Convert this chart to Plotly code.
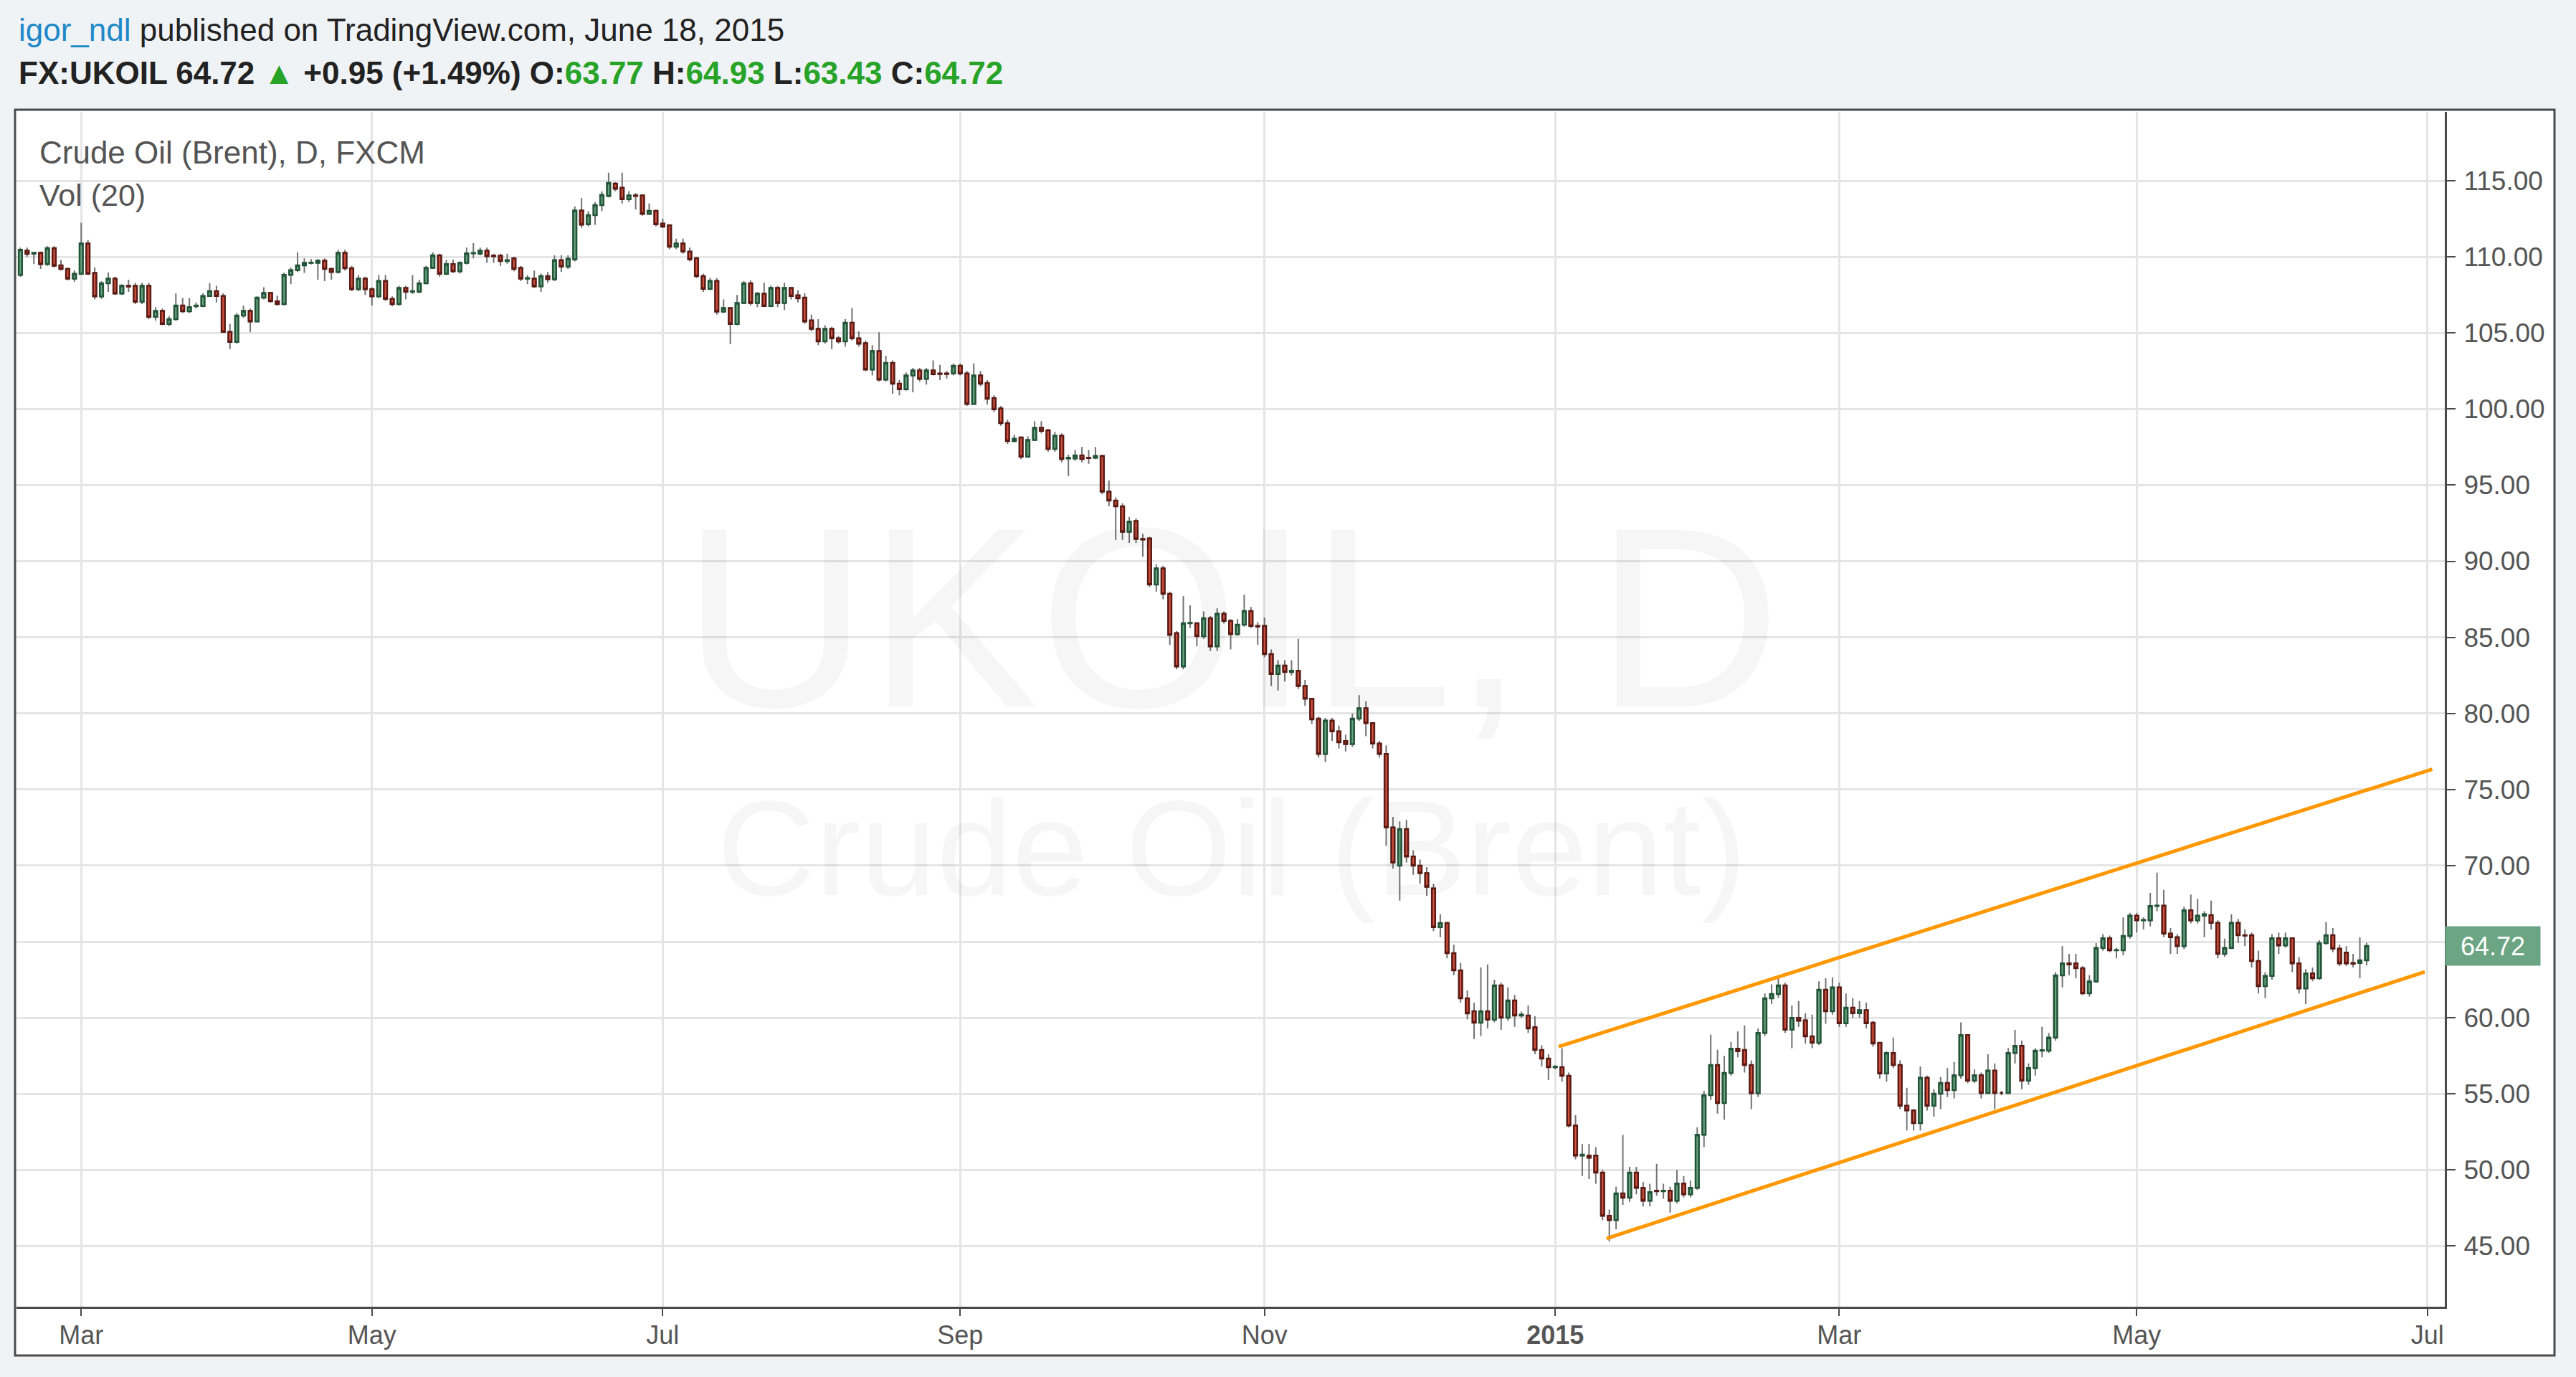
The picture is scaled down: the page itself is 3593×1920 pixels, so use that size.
import numpy as np
import pandas as pd
import plotly.graph_objects as go

# ---------------- data ----------------
first_day = "2014-02-18"

opens = [
    108.81, 110.41, 110.20, 110.26, 109.52, 110.57, 109.44, 109.20, 108.57, 108.89,
    110.88, 108.94, 107.40, 108.26, 108.57, 107.59, 108.10, 108.10, 107.05, 108.10,
    106.06, 106.45, 105.59, 105.90, 106.80, 106.42, 106.75, 106.77, 107.43, 107.74,
    107.43, 105.07, 104.41, 106.14, 106.45, 105.75, 107.32, 107.63, 107.08, 106.89,
    108.81, 109.12, 109.44, 109.60, 109.60, 109.75, 109.20, 109.00, 110.26, 109.25,
    107.87, 108.57, 107.87, 107.40, 108.42, 107.24, 106.89, 107.95, 107.71, 107.71,
    108.26, 109.28, 110.10, 108.89, 109.52, 109.05, 109.60, 110.23, 110.20, 110.40,
    110.07, 110.07, 109.72, 109.90, 109.28, 108.57, 108.57, 108.06, 108.73, 108.53,
    109.78, 109.36, 109.83, 113.05, 112.14, 112.74, 113.40, 114.00, 114.81, 114.54,
    113.79, 114.03, 114.03, 112.82, 113.02, 112.19, 112.08, 110.66, 110.88, 110.35,
    109.91, 108.73, 107.90, 108.42, 106.40, 106.64, 105.59, 106.96, 108.26, 106.96,
    107.58, 106.77, 107.95, 106.96, 107.95, 107.47, 107.32, 105.82, 105.27, 104.44,
    105.27, 104.65, 104.44, 105.67, 104.65, 104.33, 102.60, 103.81, 101.93, 103.03,
    101.66, 101.30, 102.21, 102.53, 101.98, 102.53, 102.34, 102.34, 102.34, 102.84,
    102.34, 100.33, 102.21, 101.71, 100.72, 100.04, 99.07, 97.89, 98.13, 96.87,
    97.97, 98.76, 98.60, 97.37, 98.25, 96.75, 96.75, 96.95, 96.80, 96.80,
    96.92, 94.57, 93.98, 93.61, 91.93, 92.64, 91.46, 91.50, 88.47, 89.53,
    87.85, 85.28, 83.09, 85.92, 85.92, 85.08, 86.25, 84.40, 86.55, 86.08,
    85.21, 85.83, 86.72, 85.75, 85.75, 83.90, 82.59, 83.14, 82.72, 82.80,
    81.80, 80.96, 79.66, 77.34, 79.53, 78.82, 78.18, 77.98, 79.66, 80.34,
    79.36, 78.02, 77.34, 72.50, 70.00, 72.40, 70.60, 70.00, 69.50, 68.50,
    65.95, 66.23, 64.25, 63.12, 61.28, 60.43, 59.67, 60.43, 59.87, 62.13,
    60.00, 61.14, 60.15, 60.15, 59.38, 57.88, 57.32, 56.75, 56.75, 56.19,
    52.93, 50.95, 50.95, 50.95, 49.82, 46.99, 46.70, 48.46, 48.18, 49.82,
    48.83, 47.98, 48.63, 48.60, 48.63, 47.98, 49.11, 48.40, 48.83, 52.31,
    54.91, 56.89, 54.40, 56.38, 57.97, 57.88, 56.89, 55.05, 59.00, 61.28,
    61.56, 62.13, 59.22, 59.99, 59.83, 58.78, 58.35, 61.84, 60.43, 62.00,
    59.64, 60.66, 60.30, 60.50, 59.67, 58.35, 56.34, 57.68, 56.89, 54.22,
    53.91, 53.08, 56.06, 54.22, 55.01, 55.72, 55.24, 56.22, 58.86, 55.87,
    56.22, 55.06, 56.53, 55.06, 55.06, 57.68, 58.15, 55.87, 56.69, 57.84,
    57.84, 58.70, 62.78, 63.57, 63.57, 63.26, 61.61, 62.39, 64.59, 65.22,
    64.43, 64.43, 65.38, 66.71, 66.40, 66.40, 67.34, 67.37, 65.53, 65.30,
    64.70, 67.06, 66.40, 66.71, 66.74, 66.24, 64.20, 64.59, 66.24, 65.42,
    65.42, 63.73, 62.08, 62.75, 65.22, 64.75, 65.22, 63.57, 61.92, 62.91,
    62.60, 64.91, 65.42, 64.54, 64.28, 63.60, 63.60, 63.77,
]
highs = [
    110.60, 110.60, 110.30, 110.35, 110.70, 110.70, 109.80, 109.30, 109.10, 112.23,
    111.10, 109.30, 108.40, 108.97, 108.70, 108.20, 108.50, 108.30, 108.30, 108.30,
    106.70, 106.60, 106.10, 107.60, 107.30, 107.30, 107.00, 107.60, 108.26, 108.10,
    107.60, 105.60, 106.30, 106.80, 106.60, 107.40, 108.00, 107.70, 107.45, 108.97,
    109.30, 110.30, 109.90, 109.85, 109.85, 109.90, 109.30, 110.45, 110.45, 109.40,
    108.80, 108.70, 108.00, 108.80, 108.80, 107.40, 108.10, 108.10, 108.80, 108.50,
    109.40, 110.30, 110.20, 109.80, 109.80, 109.70, 110.60, 110.90, 110.60, 110.60,
    110.20, 110.20, 110.20, 110.00, 109.40, 108.80, 109.10, 108.90, 109.00, 110.10,
    110.10, 110.10, 113.30, 113.87, 113.00, 113.60, 114.30, 115.53, 114.90, 115.53,
    114.30, 114.20, 114.10, 113.50, 113.10, 112.50, 112.10, 111.20, 111.20, 110.60,
    110.00, 108.90, 108.60, 108.60, 107.20, 106.70, 107.50, 108.40, 108.45, 107.70,
    108.30, 108.10, 108.10, 108.30, 108.00, 107.80, 107.60, 106.20, 105.90, 105.50,
    105.40, 104.80, 105.90, 106.64, 105.10, 104.50, 104.20, 105.04, 103.50, 103.20,
    101.90, 102.40, 102.70, 102.70, 102.70, 103.20, 102.90, 102.50, 103.00, 103.00,
    102.50, 103.00, 102.50, 101.90, 100.90, 100.20, 99.30, 98.30, 98.20, 98.20,
    99.20, 99.20, 98.70, 98.50, 98.40, 97.00, 97.30, 97.50, 97.30, 97.50,
    97.00, 95.30, 94.20, 93.80, 92.90, 92.80, 91.80, 91.60, 89.80, 89.70,
    88.00, 85.40, 87.70, 87.10, 86.00, 86.70, 86.40, 86.90, 86.70, 86.20,
    86.20, 87.80, 87.00, 86.00, 86.30, 84.20, 83.50, 83.50, 83.50, 84.90,
    82.20, 81.00, 79.80, 79.70, 79.70, 79.20, 78.60, 80.00, 81.20, 80.80,
    79.40, 78.20, 77.90, 73.20, 72.90, 73.00, 71.00, 70.40, 69.90, 68.80,
    66.80, 66.30, 64.80, 63.60, 61.80, 61.00, 63.30, 63.50, 62.50, 62.30,
    62.00, 61.50, 60.40, 60.80, 60.10, 58.20, 57.60, 56.90, 58.00, 56.40,
    53.60, 51.70, 51.70, 51.50, 50.00, 47.40, 48.90, 52.30, 50.20, 50.20,
    49.20, 49.10, 50.40, 49.10, 48.90, 50.00, 49.60, 49.30, 52.80, 55.20,
    58.90, 57.90, 57.50, 58.40, 59.10, 59.50, 57.20, 59.30, 61.60, 62.20,
    62.80, 62.30, 60.80, 61.10, 60.30, 60.20, 62.40, 62.60, 62.65, 62.30,
    61.60, 61.30, 61.10, 61.00, 59.80, 58.40, 57.80, 58.70, 57.20, 55.40,
    54.00, 56.80, 56.20, 55.30, 56.10, 56.70, 57.10, 59.70, 58.90, 56.60,
    56.40, 57.60, 57.00, 55.20, 58.00, 59.20, 58.50, 57.00, 58.00, 59.40,
    59.00, 63.00, 64.70, 64.20, 64.20, 63.40, 62.80, 64.90, 65.50, 65.40,
    64.60, 66.60, 66.90, 66.90, 66.60, 68.20, 69.54, 68.40, 65.90, 65.50,
    67.30, 68.10, 67.80, 67.00, 67.70, 66.40, 65.20, 66.80, 66.50, 65.80,
    65.60, 64.40, 63.00, 65.50, 65.60, 65.60, 65.30, 64.00, 63.20, 63.30,
    65.10, 66.30, 65.90, 64.80, 64.70, 64.20, 65.30, 64.93,
]
lows = [
    108.68, 110.00, 109.52, 109.20, 109.40, 109.30, 109.10, 108.45, 108.36, 108.80,
    108.80, 107.20, 107.24, 107.70, 107.50, 107.50, 107.70, 106.90, 106.90, 105.90,
    105.80, 105.50, 105.45, 105.80, 106.30, 106.30, 106.60, 106.70, 107.40, 107.00,
    105.00, 103.94, 104.30, 106.00, 105.07, 105.70, 107.20, 107.00, 106.80, 106.80,
    108.20, 109.00, 108.95, 109.50, 108.50, 108.40, 108.50, 108.90, 109.10, 107.75,
    107.75, 107.50, 106.80, 107.30, 107.10, 106.75, 106.80, 107.20, 107.55, 107.60,
    108.20, 109.20, 108.70, 108.80, 108.95, 108.90, 109.50, 109.90, 110.10, 109.60,
    109.60, 109.40, 109.55, 109.05, 108.40, 108.20, 107.95, 107.70, 108.30, 108.40,
    109.00, 109.20, 109.70, 111.90, 112.00, 112.10, 113.00, 113.90, 114.30, 113.50,
    113.60, 113.10, 112.70, 112.80, 112.00, 111.90, 110.50, 110.50, 110.20, 109.70,
    108.60, 107.70, 107.80, 106.20, 106.30, 104.25, 105.50, 106.90, 106.80, 106.70,
    106.70, 106.70, 106.70, 106.50, 107.20, 107.00, 105.60, 105.10, 104.20, 104.30,
    103.94, 104.30, 104.10, 104.50, 104.10, 102.50, 102.20, 101.80, 101.80, 101.00,
    100.90, 101.20, 101.10, 101.80, 101.60, 102.20, 101.90, 102.00, 102.20, 102.20,
    100.20, 100.30, 101.50, 100.30, 99.80, 98.90, 97.70, 97.80, 96.70, 96.80,
    97.90, 98.40, 97.20, 97.20, 96.50, 95.60, 96.60, 96.50, 96.40, 96.70,
    94.40, 93.60, 91.40, 91.40, 91.20, 91.20, 90.30, 88.30, 88.00, 87.50,
    84.50, 82.90, 82.90, 85.60, 84.40, 84.90, 84.10, 84.10, 85.90, 84.20,
    85.10, 85.70, 85.60, 84.50, 83.70, 81.80, 81.50, 82.10, 82.50, 81.60,
    80.50, 79.30, 77.10, 76.80, 78.20, 77.70, 77.50, 77.80, 79.50, 78.50,
    77.70, 77.10, 71.30, 69.80, 67.70, 70.20, 69.40, 68.80, 68.00, 65.70,
    65.30, 63.90, 62.80, 61.00, 59.90, 58.60, 58.80, 59.30, 59.70, 59.20,
    59.80, 59.40, 60.00, 59.00, 57.60, 56.80, 55.90, 56.60, 55.80, 52.80,
    50.70, 49.60, 49.40, 49.10, 46.70, 45.30, 46.10, 47.70, 47.90, 48.40,
    47.60, 47.60, 48.30, 48.10, 47.20, 47.80, 48.20, 48.20, 48.70, 51.50,
    54.60, 53.70, 53.30, 56.20, 57.40, 56.40, 54.00, 54.80, 58.80, 60.90,
    61.30, 59.00, 58.00, 59.40, 58.30, 58.00, 58.20, 59.60, 60.20, 59.40,
    59.40, 60.00, 60.00, 59.30, 58.10, 56.00, 55.80, 56.70, 54.00, 52.60,
    52.60, 52.60, 53.90, 53.50, 54.00, 54.80, 54.70, 56.00, 55.70, 55.70,
    54.70, 55.00, 54.00, 54.90, 55.00, 57.00, 55.30, 55.60, 56.20, 57.40,
    57.70, 58.50, 62.00, 62.80, 62.60, 61.50, 61.40, 62.30, 64.40, 64.30,
    63.90, 64.10, 65.20, 65.60, 65.80, 66.00, 67.00, 65.30, 64.20, 64.20,
    64.50, 66.20, 66.20, 65.30, 65.80, 63.90, 64.00, 64.50, 64.90, 64.70,
    63.30, 61.60, 61.30, 62.50, 64.20, 64.60, 63.00, 61.60, 60.90, 62.40,
    62.50, 64.80, 64.30, 63.40, 63.40, 63.30, 62.60, 63.43,
]
closes = [
    110.46, 110.19, 110.26, 109.52, 110.57, 109.41, 109.20, 108.57, 108.89, 110.88,
    108.89, 107.40, 108.26, 108.57, 107.59, 108.10, 108.05, 107.05, 108.10, 106.06,
    106.45, 105.59, 105.90, 106.80, 106.42, 106.69, 106.80, 107.43, 107.74, 107.43,
    105.07, 104.41, 106.14, 106.45, 105.75, 107.32, 107.63, 107.08, 106.89, 108.81,
    109.12, 109.44, 109.60, 109.62, 109.75, 109.20, 109.00, 110.26, 109.25, 107.87,
    108.57, 107.87, 107.40, 108.42, 107.24, 106.89, 107.95, 107.71, 107.74, 108.26,
    109.28, 110.10, 108.89, 109.52, 109.05, 109.60, 110.23, 110.25, 110.40, 110.04,
    110.04, 109.72, 109.78, 109.20, 108.57, 108.60, 108.06, 108.73, 108.53, 109.78,
    109.36, 109.88, 113.05, 112.11, 112.74, 113.40, 114.07, 114.86, 114.47, 113.79,
    114.03, 114.00, 112.82, 113.02, 112.14, 111.98, 110.66, 110.88, 110.35, 109.83,
    108.73, 107.90, 108.42, 106.40, 106.64, 105.59, 106.96, 108.26, 106.96, 107.58,
    106.77, 107.95, 106.96, 107.95, 107.43, 107.27, 105.75, 105.27, 104.44, 105.27,
    104.65, 104.44, 105.67, 104.65, 104.29, 102.60, 103.81, 101.93, 103.03, 101.66,
    101.30, 102.21, 102.53, 101.98, 102.53, 102.29, 102.30, 102.30, 102.84, 102.34,
    100.33, 102.21, 101.66, 100.67, 99.98, 99.07, 97.89, 98.05, 96.87, 97.97,
    98.76, 98.57, 97.37, 98.25, 96.71, 96.80, 96.95, 96.71, 96.78, 96.92,
    94.57, 93.98, 93.61, 91.93, 92.60, 91.46, 91.42, 88.47, 89.53, 87.85,
    85.16, 83.09, 85.92, 85.95, 85.08, 86.25, 84.40, 86.55, 86.08, 85.21,
    85.83, 86.72, 85.75, 85.70, 83.90, 82.59, 83.14, 82.72, 82.80, 81.80,
    80.96, 79.61, 77.34, 79.53, 78.82, 78.10, 77.98, 79.66, 80.34, 79.36,
    78.02, 77.34, 72.50, 70.20, 72.40, 70.60, 70.00, 69.50, 68.60, 65.95,
    66.23, 64.25, 63.12, 61.28, 60.29, 59.67, 60.43, 59.87, 62.13, 60.00,
    61.14, 60.15, 60.20, 59.30, 57.88, 57.32, 56.75, 56.78, 56.19, 52.93,
    50.95, 51.00, 50.80, 49.82, 46.99, 46.70, 48.46, 48.18, 49.82, 48.83,
    47.98, 48.54, 48.60, 48.63, 47.98, 49.11, 48.40, 48.83, 52.31, 54.91,
    56.89, 54.40, 56.38, 57.97, 57.80, 56.89, 55.05, 59.00, 61.28, 61.56,
    62.13, 59.22, 59.99, 59.80, 58.78, 58.35, 61.84, 60.43, 62.00, 59.64,
    60.66, 60.30, 60.50, 59.64, 58.31, 56.34, 57.68, 56.89, 54.22, 53.91,
    53.08, 56.06, 54.22, 55.01, 55.72, 55.24, 56.22, 58.86, 55.87, 56.22,
    55.06, 56.53, 55.06, 55.06, 57.68, 58.15, 55.87, 56.69, 57.84, 57.87,
    58.70, 62.78, 63.57, 63.50, 63.26, 61.61, 62.39, 64.59, 65.22, 64.43,
    64.45, 65.38, 66.71, 66.40, 66.43, 67.34, 67.37, 65.53, 65.30, 64.70,
    67.06, 66.40, 66.71, 66.80, 66.24, 64.20, 64.59, 66.24, 65.42, 65.40,
    63.73, 62.08, 62.75, 65.22, 64.75, 65.22, 63.57, 61.92, 62.91, 62.60,
    64.91, 65.42, 64.54, 63.57, 63.57, 63.55, 63.77, 64.72,
]

# channel drawing (bar index, price)
channel_upper_x = [227.5, 356.7]
channel_upper_y = [58.10, 76.33]
channel_lower_x = [234.6, 355.6]
channel_lower_y = [45.50, 63.02]

# time-axis labels (first trading day of month)
tick_months = [(2014, 3), (2014, 5), (2014, 7), (2014, 9), (2014, 11),
               (2015, 1), (2015, 3), (2015, 5), (2015, 7)]
tick_labels = ["Mar", "May", "Jul", "Sep", "Nov", "<b>2015</b>", "Mar", "May", "Jul"]
price_ticks = [45, 50, 55, 60, 65, 70, 75, 80, 85, 90, 95, 100, 105, 110, 115]

# ---------------- figure ----------------
W, H = 3593, 1920
L, R, T, B = 23, 3593 - 3410, 156, 1920 - 1822
PW, PH = W - L - R, H - T - B
BG = "#f0f3f6"


def px_x(px):
    return (px - L) / PW


def px_y(py):
    return (H - B - py) / PH


n = len(closes)
dates = pd.bdate_range(first_day, periods=n)
axis_days = pd.bdate_range(first_day, "2015-07-15")
xi = np.arange(n)
tickvals = []
for (yy, mm) in tick_months:
    idx = np.where((axis_days.year == yy) & (axis_days.month == mm))[0][0]
    tickvals.append(int(idx))

o = np.array(opens)
c = np.array(closes)
body_hi = np.maximum(o, c)
body_lo = np.minimum(o, c)
last_close = closes[-1]

# price-axis labels; the one hidden behind the last-price tag is left blank
price_labels = ["" if abs(p - last_close) < 2.0 else f"{p:.2f}" for p in price_ticks]

UP_FILL, UP_LINE = "#6ba583", "#225437"
DN_FILL, DN_LINE = "#d75442", "#5b1a13"
WICK = "#737375"
FONT = "Liberation Sans, Arial, sans-serif"
TXT = "#555555"

fig = go.Figure()

# wicks
fig.add_trace(go.Candlestick(
    x=xi, open=opens, high=highs, low=lows, close=closes,
    increasing=dict(line=dict(color=WICK, width=2), fillcolor=WICK),
    decreasing=dict(line=dict(color=WICK, width=2), fillcolor=WICK),
    whiskerwidth=0, hoverinfo="skip", showlegend=False,
))
# bodies
fig.add_trace(go.Candlestick(
    x=xi, open=o, high=body_hi, low=body_lo, close=c,
    increasing=dict(line=dict(color=UP_LINE, width=2.5), fillcolor=UP_FILL),
    decreasing=dict(line=dict(color=DN_LINE, width=2.5), fillcolor=DN_FILL),
    whiskerwidth=0, text=[d.strftime("%Y-%m-%d") for d in dates],
    showlegend=False,
))
# channel lines
for cx, cy in ((channel_upper_x, channel_upper_y), (channel_lower_x, channel_lower_y)):
    fig.add_trace(go.Scatter(x=cx, y=cy, mode="lines",
                             line=dict(color="#ff9800", width=5),
                             hoverinfo="skip", showlegend=False))

y_top = 115 + (252 - T) / 21.22
y_bot = 115 - (H - B - 252) / 21.22
x_left = (L - 28.4) / 9.431
x_right = (3410 - 28.4) / 9.431

fig.update_layout(
    width=W, height=H,
    margin=dict(l=L, r=R, t=T, b=B, pad=0),
    paper_bgcolor=BG,
    plot_bgcolor="white",
    font=dict(family=FONT, color=TXT),
    showlegend=False,
    xaxis=dict(
        range=[x_left, x_right], tickmode="array", tickvals=tickvals, ticktext=tick_labels,
        showgrid=True, gridcolor="#e5e5e5", gridwidth=2.5, zeroline=False,
        showline=True, linecolor="#4a4a4a", linewidth=3,
        ticks="outside", ticklen=10, tickwidth=2, tickcolor="#4a4a4a",
        tickfont=dict(size=36, color=TXT, family=FONT), ticklabelstandoff=-4,
        rangeslider=dict(visible=False), fixedrange=True,
    ),
    yaxis=dict(
        side="right", range=[y_bot, y_top], tickmode="array", tickvals=price_ticks,
        ticktext=price_labels, showgrid=True, gridcolor="#e5e5e5", gridwidth=2.5,
        zeroline=False, showline=True, linecolor="#4a4a4a", linewidth=3,
        ticks="outside", ticklen=12, tickwidth=2, tickcolor="#4a4a4a",
        tickfont=dict(size=37, color=TXT, family=FONT), ticklabelstandoff=4,
        fixedrange=True,
    ),
    shapes=[
        dict(type="rect", xref="paper", yref="paper",
             x0=px_x(21), x1=px_x(3563), y0=px_y(1890), y1=px_y(153),
             line=dict(color="#4a4a4a", width=3), fillcolor="white", layer="below"),
    ],
)

GREEN = "#27a327"
ann = []
ann.append(dict(
    xref="paper", yref="paper", x=px_x(24), y=px_y(42), xanchor="left", yanchor="middle",
    text='<span style="color:#1e88c8">igor_ndl</span> published on TradingView.com, June 18, 2015',
    showarrow=False, font=dict(size=44, color="#222222", family=FONT)))
line2 = ('<b>FX:UKOIL 64.72 <span style="color:%s">▲</span> +0.95 (+1.49%%) '
         'O:<span style="color:%s">63.77</span> H:<span style="color:%s">64.93</span> '
         'L:<span style="color:%s">63.43</span> C:<span style="color:%s">64.72</span></b>'
         % (GREEN, GREEN, GREEN, GREEN, GREEN))
ann.append(dict(
    xref="paper", yref="paper", x=px_x(24), y=px_y(101), xanchor="left", yanchor="middle",
    text=line2, showarrow=False, font=dict(size=44, color="#222222", family=FONT)))
ann.append(dict(
    xref="paper", yref="paper", x=px_x(53), y=px_y(212), xanchor="left", yanchor="middle",
    text="Crude Oil (Brent), D, FXCM", showarrow=False,
    font=dict(size=44, color=TXT, family=FONT)))
ann.append(dict(
    xref="paper", yref="paper", x=px_x(53), y=px_y(272), xanchor="left", yanchor="middle",
    text="Vol (20)", showarrow=False, font=dict(size=43, color=TXT, family=FONT)))
# watermark
ann.append(dict(
    xref="paper", yref="paper", x=px_x(1718), y=px_y(861), xanchor="center", yanchor="middle",
    text="UKOIL, D", showarrow=False,
    font=dict(size=358, color="rgba(0,0,0,0.035)", family=FONT)))
ann.append(dict(
    xref="paper", yref="paper", x=px_x(1718), y=px_y(1182), xanchor="center", yanchor="middle",
    text="Crude Oil (Brent)", showarrow=False,
    font=dict(size=190, color="rgba(0,0,0,0.035)", family=FONT)))
# last price tag
ann.append(dict(
    xref="paper", yref="y", x=1.0, y=last_close, xanchor="left", yanchor="middle",
    text=f"{last_close:.2f}", showarrow=False, bgcolor=UP_FILL, width=128, height=50,
    borderpad=2, align="center", font=dict(size=36, color="white", family=FONT)))
fig.update_layout(annotations=ann)

fig.write_html(
    "out.html",
    config={"displayModeBar": False},
    post_script="document.body.style.margin='0px';"
                "document.body.style.background='%s';" % BG,
)
